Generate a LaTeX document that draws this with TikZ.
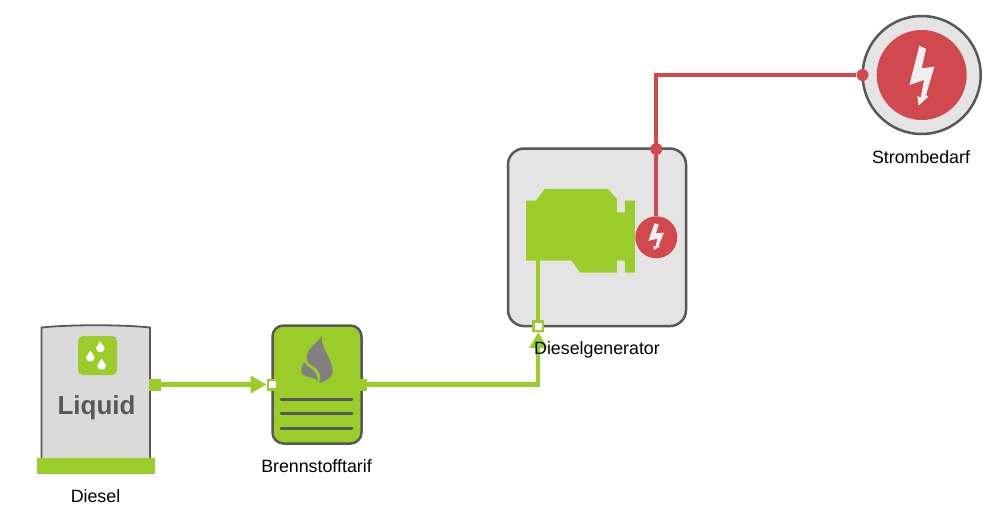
\documentclass[tikz,border=0pt]{standalone}
\usepackage{fontspec}
\setmainfont{Liberation Sans}
\usetikzlibrary{arrows.meta}
\definecolor{grn}{HTML}{9ACD2A}
\definecolor{rd}{HTML}{D2484F}
\definecolor{edge}{HTML}{585858}
\definecolor{pale}{HTML}{E4E4E4}
\definecolor{tankgray}{HTML}{DADADA}
\definecolor{flame}{HTML}{808080}
\tikzset{
  lbl/.style={font=\fontsize{17.8}{20}\selectfont, text=black, inner sep=0pt},
  grnline/.style={draw=grn, line width=4.3pt},
  rdline/.style={draw=rd, line width=4.3pt},
  solidport/.style={fill=grn, draw=none, minimum size=12pt, inner sep=0pt},
  whiteport/.style={fill=white, draw=grn, line width=2.5pt, minimum size=9.5pt, inner sep=0pt},
  dot/.style={circle, fill=rd, draw=none, minimum size=12pt, inner sep=0pt},
  bigtip/.style={-{Triangle[length=16pt,width=17pt]}},
  card/.style={draw=edge, line width=2.5pt, inner sep=0pt}
}
\newcommand{\boltshape}{(-7,-88) -- (13,-78) -- (0,-20) -- (38,-25) -- (13,60) -- (20,65) -- (-10,92) -- (-13,63) -- (-3,68) -- (7,15) -- (-37,30) -- cycle}
\newcommand{\dropshape}[2]{\fill[white] (#1,#2-19) .. controls (#1+3,#2-10) and (#1+13,#2-6) .. (#1+13,#2+2) .. controls (#1+13,#2+9) and (#1+7,#2+14) .. (#1,#2+14) .. controls (#1-7,#2+14) and (#1-13,#2+9) .. (#1-13,#2+2) .. controls (#1-13,#2-6) and (#1-3,#2-10) .. cycle;}
\begin{document}
\begin{tikzpicture}[x=1pt,y=-1pt]
\useasboundingbox (0,0) rectangle (997,532);
% Tank
\fill[tankgray] (41.5,327.5) .. controls (70,324.5) and (122,324.5) .. (150,327.5) -- (150,458) -- (41.5,458) -- cycle;
\draw[edge, line width=1.8pt] (41.5,458) -- (41.5,327.5) .. controls (70,324.5) and (122,324.5) .. (150,327.5) -- (150,458);
\node[fill=grn, minimum width=118.5pt, minimum height=15.5pt, inner sep=0pt] (tankbase) at (96,465.8) {};
\node[fill=grn, rounded corners=5pt, minimum size=39pt, inner sep=0pt] (dropicon) at (97.5,355.5) {};
\begin{scope}[shift={(20,310)}, x=0.3333pt, y=-0.3333pt]
\dropshape{241}{113}
\dropshape{211}{141}
\dropshape{245}{165}
\end{scope}
\node[font=\bfseries\fontsize{26}{28}\selectfont, text=edge, inner sep=0pt] (liquid) at (96.5,407.5) {Liquid};
\node[lbl] (diesel) at (95.5,496) {Diesel};
% Tariff
\node[card, fill=grn, rounded corners=11pt, minimum width=89pt, minimum height=118pt] (tarif) at (317,384.5) {};
\begin{scope}[shift={(290,325.86)}, x=0.3333pt, y=-0.4057pt]
\fill[flame] (95,25) .. controls (92,60) and (130,80) .. (128,115) .. controls (126,128) and (105,138) .. (88,140) .. controls (95,125) and (90,110) .. (70,100) .. controls (60,95) and (50,90) .. (50,80) .. controls (50,55) and (80,45) .. cycle;
\fill[flame] (42,90) .. controls (55,105) and (80,105) .. (84,135) .. controls (70,125) and (50,128) .. (38,120) .. controls (30,110) and (35,98) .. cycle;
\end{scope}
\foreach \ly in {399,413.7,428.3} \draw[edge, line width=3pt, line cap=round] (281,\ly) -- (352,\ly);
\node[lbl] (tariflabel) at (316.5,466) {Brennstofftarif};
% Generator
\node[card, fill=pale, rounded corners=16pt, minimum width=178pt, minimum height=177.5pt] (gen) at (597,237.3) {};
\begin{scope}[shift={(500,140)}, x=0.3333pt, y=-0.3333pt]
\fill[grn] (78,182) -- (108,182) -- (134,147) -- (324,147) -- (351,177) -- (351,217) -- (375,217) -- (375,182) -- (405,182) -- (405,398) -- (375,398) -- (375,362) -- (351,362) -- (351,398) -- (240,398) -- (215,362) -- (78,362) -- cycle;
\end{scope}
\coordinate (engfoot) at (538.3,260);
\node[circle, fill=rd, minimum size=42pt, inner sep=0pt] (genbolt) at (656.3,237.3) {};
\begin{scope}[shift={(656,236.4)}, x=0.21pt, y=-0.15pt]
\fill[pale!60!white] \boltshape;
\end{scope}
% Demand
\node[circle, draw=edge, line width=2.5pt, fill=pale, minimum size=118pt, inner sep=0pt] (demand) at (921.7,75) {};
\node[circle, fill=rd, minimum size=90pt, inner sep=0pt] (demandin) at (921.7,75) {};
\begin{scope}[shift={(921.7,75)}, x=0.3333pt, y=-0.3333pt]
\fill[pale!60!white] \boltshape;
\end{scope}
\node[lbl] (demandlabel) at (921,157) {Strombedarf};
% Ports and connectors
\node[dot] (genout) at (656.3,149) {};
\node[dot] (demandport) at (862.5,75) {};
\coordinate (bend) at (656.3,75);
\node[solidport] (dieselout) at (155,384.5) {};
\node[whiteport] (tarifin) at (272.5,384.5) {};
\node[solidport, minimum width=10pt] (tarifout) at (362,384.5) {};
\node[whiteport] (genin) at (538.3,326) {};
\draw[grnline, bigtip] (dieselout) -- (tarifin);
\draw[grnline, bigtip] (tarifout) -| (genin);
\draw[grnline] (genin) -- (engfoot);
\draw[rdline] (genbolt) -- (genout) -- (bend) -- (demandport);
\node[lbl] (genlabel) at (597,349.5) {Dieselgenerator};
\end{tikzpicture}
\end{document}
